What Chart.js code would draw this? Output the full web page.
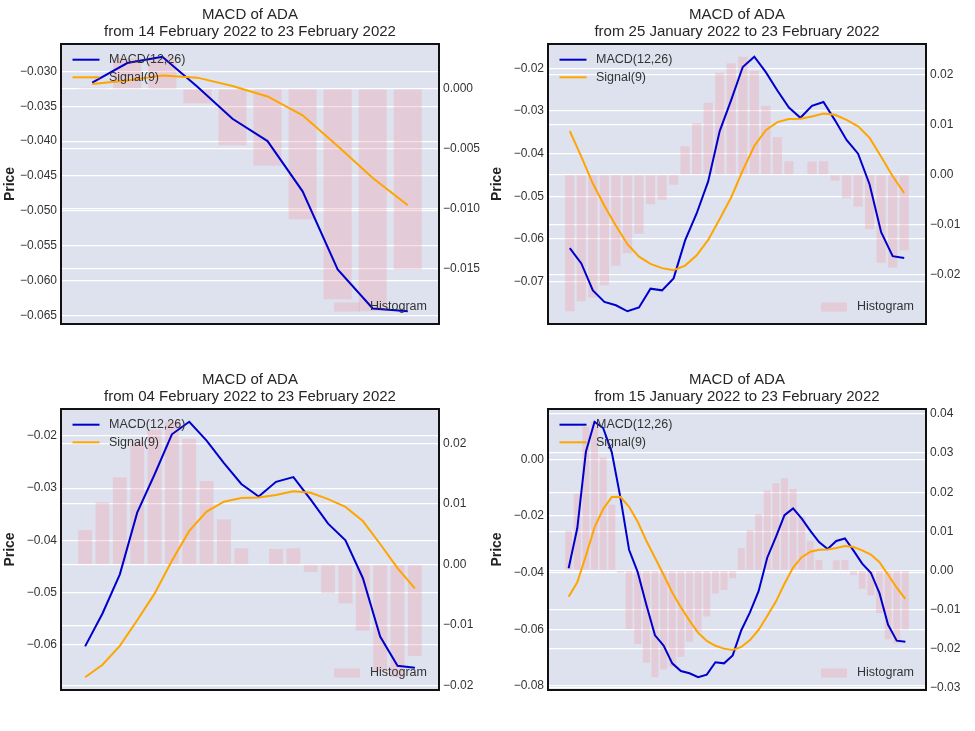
<!DOCTYPE html>
<html>
<head>
<meta charset="utf-8">
<title>MACD of ADA</title>
<script src="https://cdn.jsdelivr.net/npm/chart.js@4.4.1/dist/chart.umd.min.js"></script>
<style>
  html, body { margin: 0; padding: 0; background: #fff; }
  #wrap { position: relative; width: 975px; height: 731px; overflow: hidden; }
  #wrap canvas { position: absolute; }
</style>
</head>
<body>
<div id="wrap">
  <canvas id="c0" width="487" height="340" style="left:0;top:0"></canvas>
  <canvas id="c1" width="488" height="340" style="left:487px;top:0"></canvas>
  <canvas id="c2" width="487" height="340" style="left:0;top:365px"></canvas>
  <canvas id="c3" width="488" height="340" style="left:487px;top:365px"></canvas>
</div>
<script>
/* ---- data: daily MACD of ADA, 15 Jan 2022 .. 23 Feb 2022 ---- */
const dates = [
  "2022-01-15", "2022-01-16", "2022-01-17", "2022-01-18", "2022-01-19",
  "2022-01-20", "2022-01-21", "2022-01-22", "2022-01-23", "2022-01-24",
  "2022-01-25", "2022-01-26", "2022-01-27", "2022-01-28", "2022-01-29",
  "2022-01-30", "2022-01-31", "2022-02-01", "2022-02-02", "2022-02-03",
  "2022-02-04", "2022-02-05", "2022-02-06", "2022-02-07", "2022-02-08",
  "2022-02-09", "2022-02-10", "2022-02-11", "2022-02-12", "2022-02-13",
  "2022-02-14", "2022-02-15", "2022-02-16", "2022-02-17", "2022-02-18",
  "2022-02-19", "2022-02-20", "2022-02-21", "2022-02-22", "2022-02-23"
];

const macd = [
  -0.0384, -0.0243, 0.0027, 0.0133, 0.0111, 0.0025, -0.0135, -0.0319, -0.0398, -0.0513,
  -0.0621, -0.0657, -0.0720, -0.0747, -0.0755, -0.0769, -0.0760, -0.0716, -0.0720, -0.0692,
  -0.0603, -0.0540, -0.0465, -0.0347, -0.0274, -0.0197, -0.0173, -0.0209, -0.0252, -0.0292,
  -0.0316, -0.0288, -0.0279, -0.0322, -0.0368, -0.0400, -0.0472, -0.0584, -0.0640, -0.0644
];

const signal = [
  -0.0485, -0.0434, -0.0340, -0.0240, -0.0175, -0.0133, -0.0132, -0.0167, -0.0220, -0.0287,
  -0.0347, -0.0407, -0.0470, -0.0522, -0.0569, -0.0612, -0.0641, -0.0658, -0.0668, -0.0673,
  -0.0662, -0.0638, -0.0602, -0.0553, -0.0502, -0.0439, -0.0382, -0.0345, -0.0326, -0.0319,
  -0.0318, -0.0313, -0.0306, -0.0309, -0.0321, -0.0336, -0.0363, -0.0407, -0.0453, -0.0492
];

const hist = [
  0.0101, 0.0196, 0.0367, 0.0380, 0.0289, 0.0168, -0.0006, -0.0150, -0.0188, -0.0236,
  -0.0273, -0.0253, -0.0246, -0.0221, -0.0182, -0.0157, -0.0118, -0.0059, -0.0050, -0.0020,
  0.0057, 0.0103, 0.0144, 0.0204, 0.0223, 0.0236, 0.0208, 0.0138, 0.0075, 0.0027,
  0.0001, 0.0026, 0.0027, -0.0012, -0.0047, -0.0064, -0.0109, -0.0176, -0.0186, -0.0151
];

/* panels: top-left, top-right, bottom-left, bottom-right */
const windowDays = [10, 30, 20, 40];
const leftStep   = [0.005, 0.01, 0.01, 0.02];
const rightStep  = [0.005, 0.01, 0.01, 0.01];
const tickDigits = [3, 2, 2, 2];

const monthNames = ["January", "February", "March", "April", "May", "June", "July",
  "August", "September", "October", "November", "December"];

/* -------- style -------- */
const FONT = "'Liberation Sans', Arial, Helvetica, sans-serif";
const PLOT_BG = "#dde2ee";
const TEXT = "#333333";
const BAR_COLOR = "rgba(240, 160, 170, 0.32)";

Chart.defaults.font.family = FONT;
Chart.defaults.color = TEXT;
Chart.defaults.animation = false;

function fmtDate(s) {
  const [y, m, d] = s.split("-");
  return d + " " + monthNames[+m - 1] + " " + y;
}

function fmtTick(v, digits) {
  const t = Math.abs(v).toFixed(digits);
  return (v < 0 && +t !== 0 ? "\u2212" : "") + t;
}

/* matplotlib-like autoscale: data extent plus 5 % on each side */
function pad(vals) {
  const lo = Math.min(...vals), hi = Math.max(...vals);
  const m = (hi - lo) * 0.05;
  return [lo - m, hi + m];
}

function pts(arr) {
  return arr.map((v, i) => ({ x: i, y: v }));
}

/* background, frame and the two legends of each panel */
const panelDecor = {
  id: "panelDecor",
  beforeDraw(chart) {
    const { ctx, chartArea: a } = chart;
    ctx.save();
    ctx.fillStyle = PLOT_BG;
    ctx.fillRect(a.left, a.top, a.width, a.height);
    ctx.restore();
  },
  afterDatasetsDraw(chart) {
    const { ctx, chartArea: a } = chart;
    const ds = chart.data.datasets;
    ctx.save();
    ctx.font = "12.5px " + FONT;
    ctx.textBaseline = "middle";
    ctx.textAlign = "left";
    [0, 1].forEach((k) => {
      const y = a.top + 15.7 + k * 17.6;
      ctx.strokeStyle = ds[k].borderColor;
      ctx.lineWidth = 2;
      ctx.beginPath();
      ctx.moveTo(a.left + 11.5, y);
      ctx.lineTo(a.left + 38.5, y);
      ctx.stroke();
      ctx.fillStyle = TEXT;
      ctx.fillText(ds[k].label, a.left + 48, y);
    });
    const hy = a.bottom - 17;
    ctx.fillStyle = ds[2].backgroundColor;
    ctx.fillRect(a.right - 105, hy - 4.5, 26, 9);
    ctx.fillStyle = TEXT;
    ctx.fillText(ds[2].label, a.right - 69, hy);
    ctx.restore();
  },
  afterDraw(chart) {
    const { ctx, chartArea: a } = chart;
    ctx.save();
    ctx.strokeStyle = "#111";
    ctx.lineWidth = 2;
    ctx.strokeRect(a.left, a.top, a.width, a.height);
    ctx.restore();
  }
};

function drawPanel(k) {
  const canvas = document.getElementById("c" + k);
  const n = windowDays[k];
  const start = dates.length - n;
  const m = macd.slice(start), s = signal.slice(start), h = hist.slice(start);

  const [yMin, yMax] = pad(m.concat(s));
  const [y1Min, y1Max] = pad(h.concat([0]));
  const xLo = -0.4, xHi = n - 1 + 0.4, xm = (xHi - xLo) * 0.05;

  const rightWidth = canvas.width - 439;
  const bottomPad = k < 2 ? 16 : 15;

  new Chart(canvas, {
    type: "bar",
    data: {
      datasets: [
        {
          type: "line",
          label: "MACD(12,26)",
          data: pts(m),
          borderColor: "#0000cd",
          borderWidth: 2,
          pointRadius: 0,
          yAxisID: "y",
          order: 2
        },
        {
          type: "line",
          label: "Signal(9)",
          data: pts(s),
          borderColor: "#ffa500",
          borderWidth: 2,
          pointRadius: 0,
          yAxisID: "y",
          order: 1
        },
        {
          type: "bar",
          label: "Histogram",
          data: pts(h),
          backgroundColor: BAR_COLOR,
          borderWidth: 0,
          barPercentage: 0.8,
          categoryPercentage: 1.0,
          yAxisID: "y1",
          order: 3
        }
      ]
    },
    options: {
      responsive: false,
      layout: { padding: { left: 0, right: 0, top: 0, bottom: bottomPad } },
      plugins: {
        legend: { display: false },
        tooltip: { enabled: false },
        title: {
          display: true,
          fullSize: false,
          text: ["MACD of ADA", "from " + fmtDate(dates[start]) + " to " + fmtDate(dates[dates.length - 1])],
          color: "#262626",
          font: { size: 15, weight: "normal", lineHeight: 17 / 15 },
          padding: { top: 6.5, bottom: 3.5 }
        }
      },
      scales: {
        x: {
          type: "linear",
          display: false,
          offset: false,
          min: xLo - xm,
          max: xHi + xm
        },
        y: {
          position: "left",
          min: yMin,
          max: yMax,
          afterFit: (sc) => { sc.width = 61; },
          border: { display: false },
          grid: { color: "#ffffff", lineWidth: 1.2, drawTicks: false },
          ticks: {
            stepSize: leftStep[k],
            includeBounds: false,
            padding: 4,
            color: TEXT,
            font: { size: 12 },
            callback: (v) => fmtTick(v, tickDigits[k])
          },
          title: {
            display: true,
            text: "Price",
            color: "#222",
            font: { size: 14, weight: "bold" },
            padding: { top: 2, bottom: 0 }
          }
        },
        y1: {
          position: "right",
          min: y1Min,
          max: y1Max,
          afterFit: (sc) => { sc.width = rightWidth; },
          border: { display: false },
          grid: { color: "#ffffff", lineWidth: 1.2, drawTicks: false },
          ticks: {
            stepSize: rightStep[k],
            includeBounds: false,
            padding: 4,
            color: TEXT,
            font: { size: 12 },
            callback: (v) => fmtTick(v, tickDigits[k])
          }
        }
      }
    },
    plugins: [panelDecor]
  });
}

[0, 1, 2, 3].forEach(drawPanel);
</script>
</body>
</html>
